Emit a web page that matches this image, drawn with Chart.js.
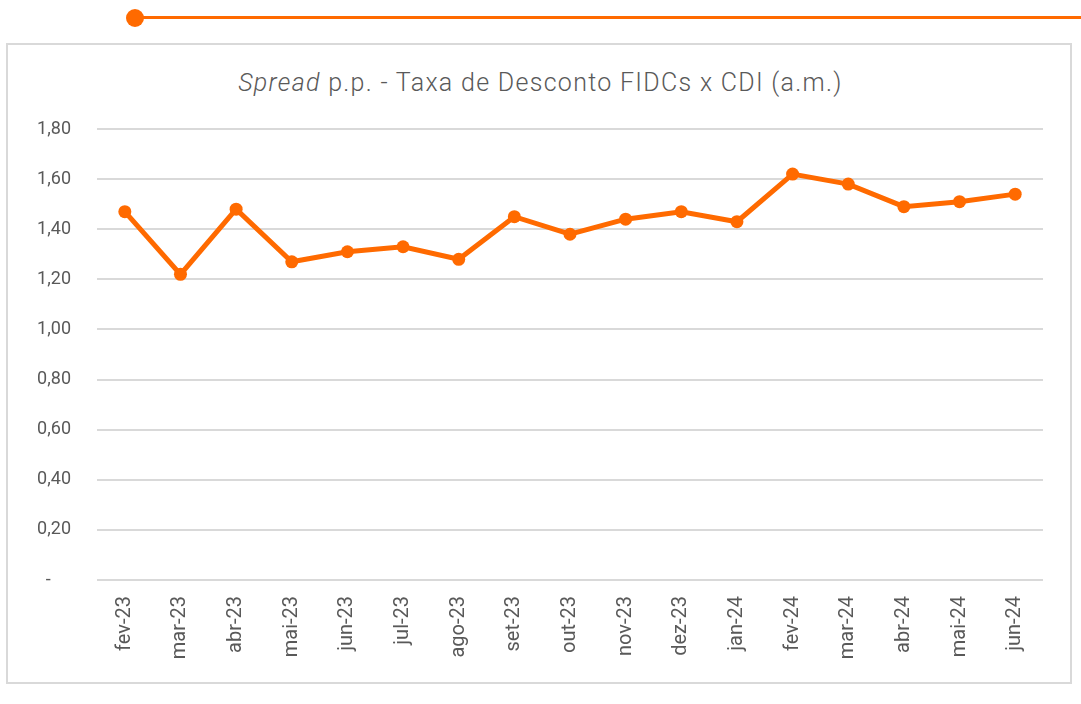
<!DOCTYPE html>
<html>
<head>
<meta charset="utf-8">
<script src="https://cdn.jsdelivr.net/npm/chart.js@4"></script>
<style>
  html, body { margin: 0; padding: 0; background: #fff; width: 1081px; height: 704px; overflow: hidden; }
  #deco-line { position: absolute; left: 135px; top: 16px; width: 946px; height: 3px; background: #FF6A00; }
  #deco-dot { position: absolute; left: 126px; top: 9px; width: 18px; height: 18px; border-radius: 50%; background: #FF6A00; }
  #box { position: absolute; left: 6px; top: 43px; width: 1062px; height: 637px; border: 2px solid #d9d9d9; box-sizing: content-box; }
  #title { position: absolute; left: 0; width: 1081px; top: 68px; text-align: center; font-family: Roboto, "Liberation Sans", sans-serif; font-weight: 300; font-size: 25px; letter-spacing: 1.3px; color: #595959; }
  #wrap { position: absolute; left: 0; top: 0; width: 1081px; height: 704px; }
</style>
</head>
<body>
<div id="deco-line"></div>
<div id="deco-dot"></div>
<div id="box"></div>
<div id="title"><em>Spread</em> p.p. - Taxa de Desconto FIDCs x CDI (a.m.)</div>
<div id="wrap"><canvas id="c" width="1081" height="704"></canvas></div>
<script>
const categories = ["fev-23","mar-23","abr-23","mai-23","jun-23","jul-23","ago-23","set-23","out-23","nov-23","dez-23","jan-24","fev-24","mar-24","abr-24","mai-24","jun-24"];
const spreadValues = [1.47, 1.22, 1.48, 1.27, 1.31, 1.33, 1.28, 1.45, 1.38, 1.44, 1.47, 1.43, 1.62, 1.58, 1.49, 1.51, 1.54];
const yTicks = [0, 0.2, 0.4, 0.6, 0.8, 1.0, 1.2, 1.4, 1.6, 1.8];

const orange = "#FF6A00";
const fontFamily = 'Roboto, "Liberation Sans", sans-serif';

new Chart(document.getElementById("c"), {
  type: "line",
  data: {
    labels: categories,
    datasets: [{
      data: spreadValues,
      borderColor: orange,
      backgroundColor: orange,
      borderWidth: 5,
      pointRadius: 6.5,
      pointHoverRadius: 6.5,
      pointBackgroundColor: orange,
      pointBorderColor: orange,
      pointBorderWidth: 0,
      tension: 0,
      fill: false
    }]
  },
  options: {
    responsive: false,
    animation: false,
    devicePixelRatio: 1,
    layout: { padding: { top: 129, right: 38, bottom: 0, left: 0 } },
    plugins: { legend: { display: false }, title: { display: false }, tooltip: { enabled: false } },
    scales: {
      x: {
        offset: true,
        grid: { display: false, drawTicks: false },
        border: { display: false },
        ticks: {
          color: "#595959",
          font: { family: fontFamily, size: 20, weight: 400 },
          maxRotation: 90, minRotation: 90,
          padding: 16,
          autoSkip: false
        },
        afterFit: (s) => { s.height = 124; }
      },
      y: {
        min: 0, max: 1.8,
        afterBuildTicks: (s) => { s.ticks = yTicks.map(v => ({ value: v })); },
        grid: { color: "#d9d9d9", lineWidth: 2, drawTicks: false },
        border: { display: false },
        ticks: {
          color: "#595959",
          font: { family: fontFamily, size: 18, weight: 400 },
          padding: 26,
          callback: (v) => v === 0 ? "-\u2007\u2007" : v.toFixed(2).replace(".", ",")
        },
        afterFit: (s) => { s.width = 97; }
      }
    }
  }
});
</script>
</body>
</html>
